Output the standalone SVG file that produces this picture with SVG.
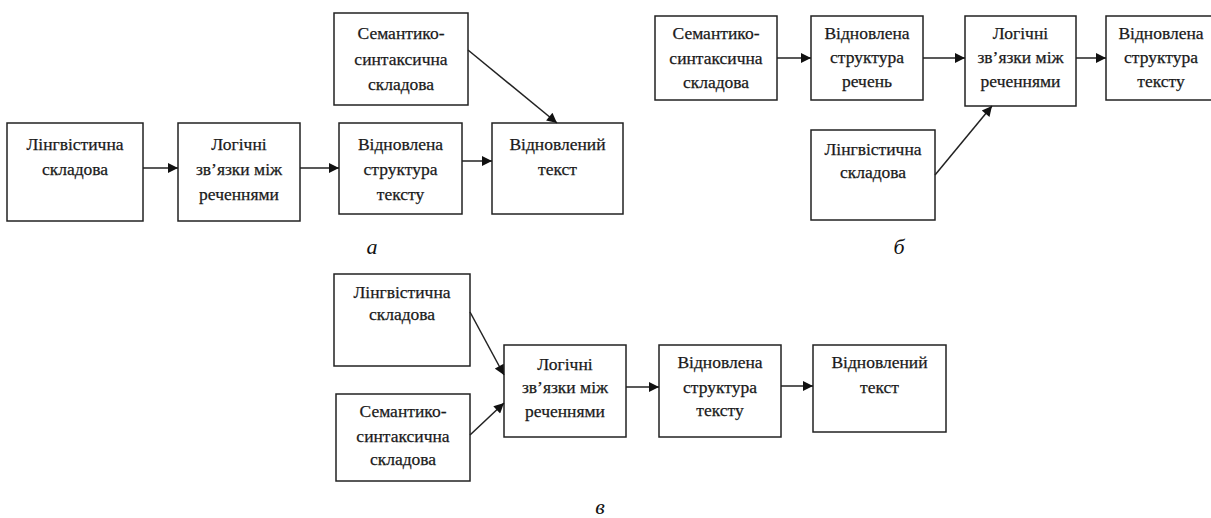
<svg xmlns="http://www.w3.org/2000/svg" width="1211" height="518" viewBox="0 0 1211 518">
<style>
.box{fill:#fff;stroke:#222;stroke-width:1.5}
.t{font-family:"Liberation Serif","Times New Roman",Times,serif;font-size:17.5px;fill:#1a1a1a;stroke:#1a1a1a;stroke-width:0.25;text-anchor:middle}
.lbl{font-family:"Liberation Serif","Times New Roman",Times,serif;font-size:22px;font-style:italic;fill:#111;text-anchor:middle}
.c{stroke:#222;stroke-width:1.5;fill:none;marker-end:url(#ah)}
</style>
<defs>
<marker id="ah" viewBox="0 0 10 10" refX="10" refY="5" markerWidth="12" markerHeight="10" markerUnits="userSpaceOnUse" orient="auto">
<path d="M0,0 L10,5 L0,10 z" fill="#111"/>
</marker>
</defs>
<rect width="1211" height="518" fill="#fff"/>

<g id="a1"><rect class="box" x="7" y="123" width="136" height="98"/><text class="t" x="75" y="150">Лінгвістична</text><text class="t" x="75" y="175">складова</text></g>
<g id="a2"><rect class="box" x="178" y="123" width="122" height="98"/><text class="t" x="239" y="150">Логічні</text><text class="t" x="239" y="175">зв’язки між</text><text class="t" x="239" y="200">реченнями</text></g>
<g id="a3"><rect class="box" x="339" y="123" width="123" height="91"/><text class="t" x="400.5" y="150">Відновлена</text><text class="t" x="400.5" y="175">структура</text><text class="t" x="400.5" y="200">тексту</text></g>
<g id="a4"><rect class="box" x="334" y="13" width="134" height="92"/><text class="t" x="401" y="39">Семантико-</text><text class="t" x="401" y="65">синтаксична</text><text class="t" x="401" y="90">складова</text></g>
<g id="a5"><rect class="box" x="492" y="123" width="131" height="91"/><text class="t" x="557.5" y="150">Відновлений</text><text class="t" x="557.5" y="175">текст</text></g>
<text class="lbl" x="372" y="254">а</text>

<g id="b1"><rect class="box" x="655" y="16" width="122" height="84"/><text class="t" x="716" y="39">Семантико-</text><text class="t" x="716" y="64">синтаксична</text><text class="t" x="716" y="88">складова</text></g>
<g id="b2"><rect class="box" x="811" y="16" width="112" height="84"/><text class="t" x="867" y="39">Відновлена</text><text class="t" x="867" y="63">структура</text><text class="t" x="867" y="87">речень</text></g>
<g id="b3"><rect class="box" x="965" y="16" width="111" height="90"/><text class="t" x="1020.5" y="39">Логічні</text><text class="t" x="1020.5" y="63">зв’язки між</text><text class="t" x="1020.5" y="87">реченнями</text></g>
<g id="b4"><rect class="box" x="1106" y="16" width="112" height="84"/><text class="t" x="1161" y="39">Відновлена</text><text class="t" x="1161" y="63">структура</text><text class="t" x="1161" y="87">тексту</text></g>
<g id="b5"><rect class="box" x="811" y="130" width="124" height="90"/><text class="t" x="873" y="155">Лінгвістична</text><text class="t" x="873" y="178">складова</text></g>
<text class="lbl" x="899" y="254">б</text>

<g id="c1"><rect class="box" x="334" y="274" width="136" height="92"/><text class="t" x="402" y="298">Лінгвістична</text><text class="t" x="402" y="320">складова</text></g>
<g id="c2"><rect class="box" x="336" y="394" width="134" height="87"/><text class="t" x="403" y="417">Семантико-</text><text class="t" x="403" y="442">синтаксична</text><text class="t" x="403" y="465">складова</text></g>
<g id="c3"><rect class="box" x="504" y="345" width="122" height="92"/><text class="t" x="565" y="370">Логічні</text><text class="t" x="565" y="393">зв’язки між</text><text class="t" x="565" y="417">реченнями</text></g>
<g id="c4"><rect class="box" x="659" y="345" width="122" height="92"/><text class="t" x="720" y="368">Відновлена</text><text class="t" x="720" y="393">структура</text><text class="t" x="720" y="416">тексту</text></g>
<g id="c5"><rect class="box" x="813" y="345" width="133" height="87"/><text class="t" x="879.5" y="368">Відновлений</text><text class="t" x="879.5" y="393">текст</text></g>
<text class="lbl" x="600" y="514">в</text>

<g id="connectors">
<line class="c" x1="143" y1="168" x2="178" y2="168"/>
<line class="c" x1="300" y1="168" x2="339" y2="168"/>
<line class="c" x1="462" y1="161" x2="492" y2="161"/>
<line class="c" x1="468" y1="50" x2="557" y2="123"/>
<line class="c" x1="777" y1="58" x2="811" y2="58"/>
<line class="c" x1="923" y1="58" x2="965" y2="58"/>
<line class="c" x1="1076" y1="58" x2="1106" y2="58"/>
<line class="c" x1="935" y1="175" x2="992" y2="106"/>
<line class="c" x1="470" y1="312" x2="504" y2="375"/>
<line class="c" x1="470" y1="435" x2="504" y2="403"/>
<line class="c" x1="626" y1="387" x2="659" y2="387"/>
<line class="c" x1="781" y1="386" x2="813" y2="386"/>
</g>
</svg>
